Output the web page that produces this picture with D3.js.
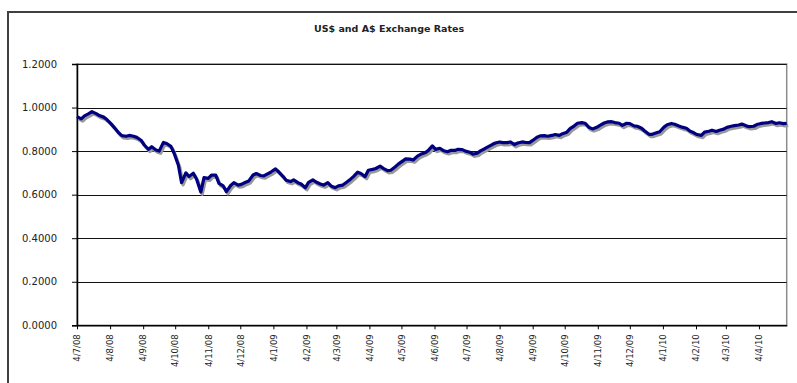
<!DOCTYPE html>
<html>
<head>
<meta charset="utf-8">
<script src="https://cdn.jsdelivr.net/npm/d3@7"></script>
<style>
  body { margin: 0; background: #fff; }
  text { font-family: "DejaVu Sans", Verdana, sans-serif; fill: #222; }
</style>
</head>
<body>
<script>
//chart title
var title = "US$ and A$ Exchange Rates";

//x axis tick labels (d/m/yy)
var tickLabels = ["4/7/08", "4/8/08", "4/9/08", "4/10/08", "4/11/08", "4/12/08",
  "4/1/09", "4/2/09", "4/3/09", "4/4/09", "4/5/09", "4/6/09", "4/7/09", "4/8/09",
  "4/9/09", "4/10/09", "4/11/09", "4/12/09", "4/1/10", "4/2/10", "4/3/10", "4/4/10"];

//y axis ticks
var yTicks = [0, 0.2, 0.4, 0.6, 0.8, 1.0, 1.2];

//observation dates (twice a week)
var dates = [
  "2008-07-04", "2008-07-08", "2008-07-11", "2008-07-15", "2008-07-18", "2008-07-22", "2008-07-25", "2008-07-29",
  "2008-08-01", "2008-08-05", "2008-08-08", "2008-08-12", "2008-08-15", "2008-08-19", "2008-08-22", "2008-08-26", "2008-08-29",
  "2008-09-02", "2008-09-05", "2008-09-09", "2008-09-12", "2008-09-16", "2008-09-19", "2008-09-23", "2008-09-26", "2008-09-30",
  "2008-10-03", "2008-10-07", "2008-10-10", "2008-10-14", "2008-10-17", "2008-10-21", "2008-10-24", "2008-10-28", "2008-10-31",
  "2008-11-04", "2008-11-07", "2008-11-11", "2008-11-14", "2008-11-18", "2008-11-21", "2008-11-25", "2008-11-28",
  "2008-12-02", "2008-12-05", "2008-12-09", "2008-12-12", "2008-12-16", "2008-12-19", "2008-12-23", "2008-12-26", "2008-12-30",
  "2009-01-02", "2009-01-06", "2009-01-09", "2009-01-13", "2009-01-16", "2009-01-20", "2009-01-23", "2009-01-27", "2009-01-30",
  "2009-02-03", "2009-02-06", "2009-02-10", "2009-02-13", "2009-02-17", "2009-02-20", "2009-02-24", "2009-02-27",
  "2009-03-03", "2009-03-06", "2009-03-10", "2009-03-13", "2009-03-17", "2009-03-20", "2009-03-24", "2009-03-27", "2009-03-31",
  "2009-04-03", "2009-04-07", "2009-04-10", "2009-04-14", "2009-04-17", "2009-04-21", "2009-04-24", "2009-04-28",
  "2009-05-01", "2009-05-05", "2009-05-08", "2009-05-12", "2009-05-15", "2009-05-19", "2009-05-22", "2009-05-26", "2009-05-29",
  "2009-06-02", "2009-06-05", "2009-06-09", "2009-06-12", "2009-06-16", "2009-06-19", "2009-06-23", "2009-06-26", "2009-06-30",
  "2009-07-03", "2009-07-07", "2009-07-10", "2009-07-14", "2009-07-17", "2009-07-21", "2009-07-24", "2009-07-28", "2009-07-31",
  "2009-08-04", "2009-08-07", "2009-08-11", "2009-08-14", "2009-08-18", "2009-08-21", "2009-08-25", "2009-08-28",
  "2009-09-01", "2009-09-04", "2009-09-08", "2009-09-11", "2009-09-15", "2009-09-18", "2009-09-22", "2009-09-25", "2009-09-29",
  "2009-10-02", "2009-10-06", "2009-10-09", "2009-10-13", "2009-10-16", "2009-10-20", "2009-10-23", "2009-10-27", "2009-10-30",
  "2009-11-03", "2009-11-06", "2009-11-10", "2009-11-13", "2009-11-17", "2009-11-20", "2009-11-24", "2009-11-27",
  "2009-12-01", "2009-12-04", "2009-12-08", "2009-12-11", "2009-12-15", "2009-12-18", "2009-12-22", "2009-12-25", "2009-12-29",
  "2010-01-01", "2010-01-05", "2010-01-08", "2010-01-12", "2010-01-15", "2010-01-19", "2010-01-22", "2010-01-26", "2010-01-29",
  "2010-02-02", "2010-02-05", "2010-02-09", "2010-02-12", "2010-02-16", "2010-02-19", "2010-02-23", "2010-02-26",
  "2010-03-02", "2010-03-05", "2010-03-09", "2010-03-12", "2010-03-16", "2010-03-19", "2010-03-23", "2010-03-26", "2010-03-30",
  "2010-04-02", "2010-04-06", "2010-04-09", "2010-04-13", "2010-04-16", "2010-04-20", "2010-04-23", "2010-04-27", "2010-04-30"
];

//US$ per A$
var rates = [
  0.958, 0.948, 0.962, 0.972, 0.981, 0.972, 0.963, 0.956,
  0.945, 0.925, 0.908, 0.884, 0.871, 0.868, 0.872, 0.868, 0.863,
  0.850, 0.828, 0.808, 0.820, 0.805, 0.800, 0.840, 0.835, 0.822,
  0.790, 0.735, 0.655, 0.700, 0.683, 0.698, 0.672, 0.612, 0.678,
  0.675, 0.690, 0.690, 0.652, 0.640, 0.614, 0.642, 0.655,
  0.644, 0.647, 0.657, 0.663, 0.690, 0.697, 0.688, 0.686, 0.697,
  0.705, 0.718, 0.705, 0.684, 0.666, 0.660, 0.668, 0.655, 0.649,
  0.632, 0.656, 0.668, 0.658, 0.649, 0.644, 0.655, 0.640,
  0.632, 0.640, 0.644, 0.655, 0.670, 0.683, 0.703, 0.697, 0.683,
  0.712, 0.716, 0.720, 0.731, 0.721, 0.710, 0.712, 0.727,
  0.740, 0.754, 0.764, 0.763, 0.759, 0.777, 0.785, 0.792, 0.802,
  0.824, 0.808, 0.813, 0.803, 0.797, 0.803, 0.803, 0.808, 0.807,
  0.800, 0.795, 0.786, 0.790, 0.801, 0.811, 0.819, 0.830, 0.837,
  0.842, 0.839, 0.839, 0.842, 0.830, 0.837, 0.842, 0.840,
  0.839, 0.849, 0.864, 0.870, 0.871, 0.868, 0.872, 0.876, 0.872,
  0.880, 0.887, 0.903, 0.916, 0.928, 0.931, 0.928, 0.908, 0.902,
  0.909, 0.918, 0.929, 0.934, 0.935, 0.931, 0.928, 0.918,
  0.928, 0.926, 0.916, 0.914, 0.905, 0.892, 0.877, 0.877, 0.884,
  0.889, 0.910, 0.921, 0.927, 0.923, 0.915, 0.910, 0.905, 0.893,
  0.884, 0.876, 0.872, 0.887, 0.891, 0.896, 0.890, 0.896,
  0.901, 0.909, 0.914, 0.917, 0.920, 0.924, 0.916, 0.912, 0.914,
  0.922, 0.927, 0.929, 0.931, 0.935, 0.927, 0.930, 0.926, 0.928
];

//page size
var width = 797,
  height = 383;

var svg = d3.select("body")
  .append("svg")
  .attr("width", width)
  .attr("height", height);

//chart area border
svg.append("rect")
  .attr("x", 8)
  .attr("y", 12)
  .attr("width", 800)
  .attr("height", 400)
  .attr("fill", "#fff")
  .attr("stroke", "#404040")
  .attr("stroke-width", 2);

//title
svg.append("text")
  .attr("x", 389)
  .attr("y", 32)
  .attr("text-anchor", "middle")
  .style("font-size", "9.5px")
  .style("font-weight", "bold")
  .text(title);

//plot area
var plotLeft = 77, plotTop = 64, plotRight = 786.7, plotBottom = 325.3;

var parseDate = d3.timeParse("%Y-%m-%d"),
  parseTick = d3.timeParse("%d/%m/%y");

var series = dates.map(function(d, i) {
  return { date: parseDate(d), value: rates[i] };
});

var x = d3.scaleTime()
  .domain([parseDate("2008-07-04"), parseDate("2010-04-30")])
  .range([plotLeft, plotRight]);

var y = d3.scaleLinear()
  .domain([0, 1.2])
  .range([plotBottom, plotTop]);

//plot border (top and right are grey)
svg.append("rect")
  .attr("x", plotLeft)
  .attr("y", plotTop)
  .attr("width", plotRight - plotLeft)
  .attr("height", plotBottom - plotTop)
  .attr("fill", "none")
  .attr("stroke", "#8c8c8c")
  .attr("stroke-width", 1.5);

//gridlines
svg.selectAll(".grid")
  .data(yTicks.slice(1))
  .enter()
  .append("line")
  .attr("class", "grid")
  .attr("x1", plotLeft)
  .attr("x2", plotRight)
  .attr("y1", function(d) { return Math.round(y(d)) + 0.5; })
  .attr("y2", function(d) { return Math.round(y(d)) + 0.5; })
  .attr("stroke", "#111")
  .attr("stroke-width", 1);

//y axis
var yAxis = svg.append("g")
  .attr("transform", "translate(" + plotLeft + ",0)")
  .call(d3.axisLeft(y).tickValues(yTicks).tickFormat(d3.format(".4f")).tickSize(5).tickPadding(15));
yAxis.select(".domain").attr("stroke", "#000").attr("stroke-width", 1.5);
yAxis.selectAll(".tick line").attr("stroke", "#000");
yAxis.selectAll("text")
  .style("font-size", "10px")
  .style("font-family", "DejaVu Sans, sans-serif")
  .attr("fill", "#333");

//x axis
var xAxis = svg.append("g")
  .attr("transform", "translate(0," + plotBottom + ")")
  .call(d3.axisBottom(x)
    .tickValues(tickLabels.map(function(t) { return parseTick(t); }))
    .tickFormat(function(d, i) { return tickLabels[i]; })
    .tickSize(4)
    .tickSizeOuter(0));
xAxis.select(".domain").attr("stroke", "#000").attr("stroke-width", 1.5);
xAxis.selectAll(".tick line").attr("stroke", "#000");
xAxis.selectAll("text")
  .style("font-size", "8.5px")
  .style("font-family", "DejaVu Sans, sans-serif")
  .attr("fill", "#333")
  .attr("text-anchor", "end")
  .attr("transform", "rotate(-90)")
  .attr("x", -9)
  .attr("y", 0)
  .attr("dy", "0.32em");

//line generator
var line = d3.line()
  .x(function(d) { return x(d.date); })
  .y(function(d) { return y(d.value); });

//shadow
svg.append("path")
  .datum(series)
  .attr("d", line)
  .attr("transform", "translate(1.5,2.2)")
  .attr("fill", "none")
  .attr("stroke", "#999")
  .attr("stroke-width", 3.2)
  .attr("stroke-linejoin", "round");

//rate line
svg.append("path")
  .datum(series)
  .attr("d", line)
  .attr("fill", "none")
  .attr("stroke", "#000080")
  .attr("stroke-width", 3.2)
  .attr("stroke-linejoin", "round");
</script>
</body>
</html>
